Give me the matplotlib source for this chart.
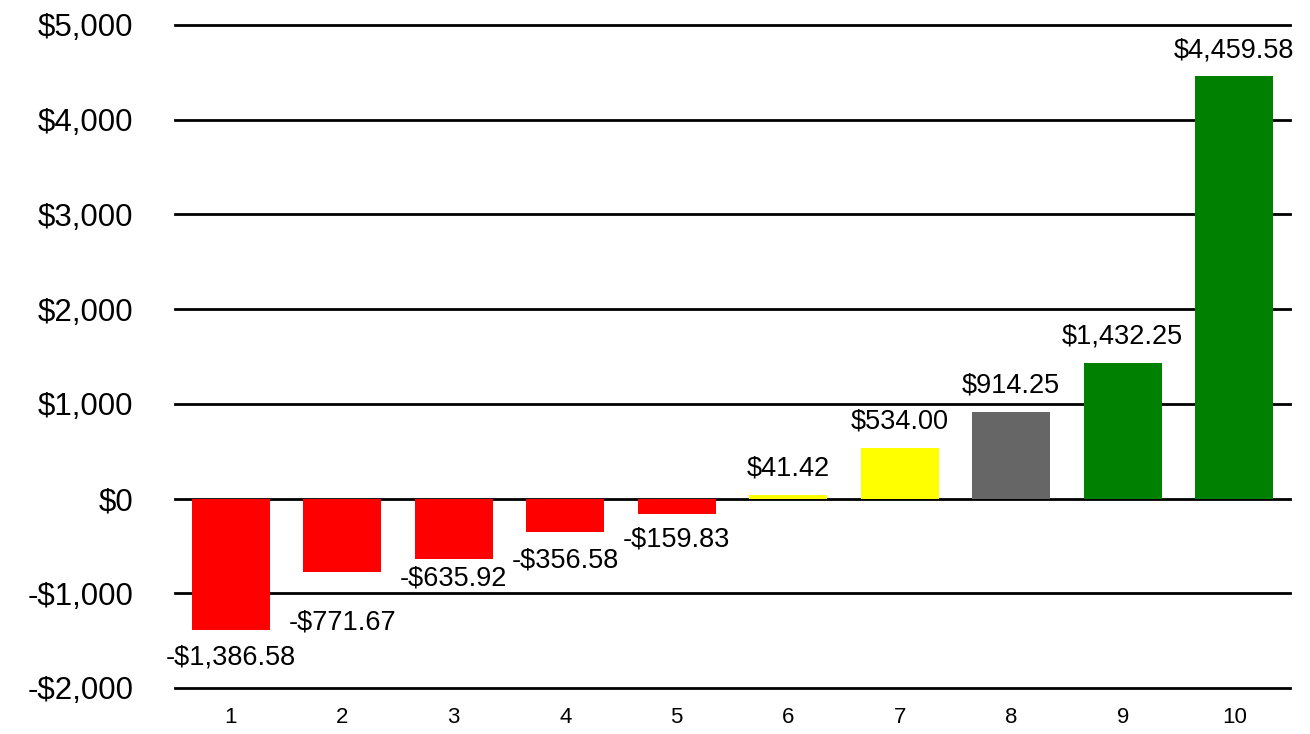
import matplotlib
matplotlib.use("Agg")
import matplotlib.pyplot as plt
from matplotlib.ticker import FuncFormatter

categories = ["1", "2", "3", "4", "5", "6", "7", "8", "9", "10"]
values = [-1386.58, -771.67, -635.92, -356.58, -159.83,
          41.42, 534.00, 914.25, 1432.25, 4459.58]
colors = ["#ff0000"] * 5 + ["#ffff00"] * 2 + ["#666666"] + ["#008000"] * 2
# label offsets from bar end, in pixels (negatives sit below the bar)
label_offsets = [-28, -51, -20, -28, -26, 26, 26, 26, 26, 26]

plt.rcParams["font.family"] = ["Liberation Sans", "DejaVu Sans"]


def money(v, pos=None):
    sign = "-" if v < 0 else ""
    return f"{sign}${abs(v):,.0f}"


fig = plt.figure(figsize=(13.1, 7.34), dpi=100)
ax = fig.add_axes([0.1336, 0.0627, 0.8511, 0.9033])

x = list(range(1, len(values) + 1))
ax.bar(x, values, width=0.7, color=colors, zorder=3)

for xi, v, off in zip(x, values, label_offsets):
    sign = "-" if v < 0 else ""
    ax.annotate(f"{sign}${abs(v):,.2f}", (xi, v), xytext=(0, off),
                textcoords="offset pixels", ha="center", va="center",
                fontsize=19.5, zorder=4)

ax.set_xlim(0.5, 10.5)
ax.set_ylim(-2000, 5000)
ax.set_yticks(range(-2000, 5001, 1000))
ax.yaxis.set_major_formatter(FuncFormatter(money))
ax.set_xticks(x)
ax.set_xticklabels(categories)

ax.grid(axis="y", color="black", linewidth=2, zorder=1)
ax.set_axisbelow(True)
for line in ax.get_ygridlines():
    line.set_clip_on(False)
for s in ax.spines.values():
    s.set_visible(False)
ax.tick_params(axis="y", length=0, pad=30, labelsize=22.5)
ax.tick_params(axis="x", length=0, pad=14, labelsize=16)

fig.savefig("out.png", dpi=100)
